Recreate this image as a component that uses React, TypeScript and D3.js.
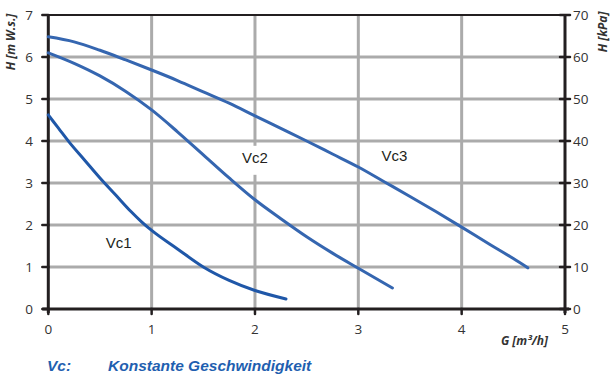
import React from "react";
import * as d3 from "d3";

// Pump characteristic curves: head H over flow G at three constant speeds
const flowTicks = [0, 1, 2, 3, 4, 5];
const headTicks = [0, 1, 2, 3, 4, 5, 6, 7];
const kpaTicks = [0, 10, 20, 30, 40, 50, 60, 70];

const vc1: [number, number][] = [
  [0, 4.62], [0.1, 4.3], [0.2, 3.98], [0.35, 3.55], [0.5, 3.12], [0.65, 2.72],
  [0.8, 2.32], [0.9, 2.08], [1.0, 1.87], [1.25, 1.43], [1.5, 1.0], [1.75, 0.68],
  [2.0, 0.44], [2.3, 0.24],
];
const vc2: [number, number][] = [
  [0, 6.1], [0.25, 5.85], [0.5, 5.55], [0.75, 5.18], [1.0, 4.74], [1.25, 4.22],
  [1.5, 3.67], [1.75, 3.12], [2.0, 2.6], [2.25, 2.15], [2.5, 1.72], [2.75, 1.33],
  [3.0, 0.97], [3.33, 0.5],
];
const vc3: [number, number][] = [
  [0, 6.48], [0.25, 6.36], [0.5, 6.16], [0.75, 5.93], [1.0, 5.69], [1.25, 5.44],
  [1.5, 5.17], [1.75, 4.9], [2.0, 4.6], [2.25, 4.3], [2.5, 4.0], [2.75, 3.69],
  [3.0, 3.38], [3.25, 3.03], [3.5, 2.68], [3.75, 2.32], [4.0, 1.95], [4.25, 1.57],
  [4.5, 1.2], [4.64, 0.98],
];

const seriesLabels = [
  { name: "Vc1", g: 0.68, h: 1.57 },
  { name: "Vc2", g: 2.0, h: 3.6 },
  { name: "Vc3", g: 3.35, h: 3.65 },
];

export default function App() {
  const W = 611, H = 376;
  const x = d3.scaleLinear().domain([0, 5]).range([48.3, 565]);
  const y = d3.scaleLinear().domain([0, 7]).range([309, 15]);
  const yk = d3.scaleLinear().domain([0, 70]).range([309, 15]);
  const line = d3
    .line<[number, number]>()
    .x((d) => x(d[0]))
    .y((d) => y(d[1]))
    .curve(d3.curveMonotoneX);

  const tickFont = "'Open Sans', 'Noto Sans', sans-serif";
  const grid = "#ababab";
  const axis = "#231f20";
  const blue = "#3566b0";
  const blueDark = "#1f57a8";

  return (
    <svg
      width={W}
      height={H}
      style={{ position: "absolute", left: 0, top: 0, background: "#fff" }}
    >
      {/* grid */}
      {headTicks.slice(1, -1).map((t) => (
        <line key={"h" + t} x1={x(0)} x2={x(5)} y1={y(t)} y2={y(t)} stroke={grid} strokeWidth={3} />
      ))}
      {flowTicks.slice(1, -1).map((t) => (
        <line key={"v" + t} x1={x(t)} x2={x(t)} y1={y(0)} y2={y(7)} stroke={grid} strokeWidth={3} />
      ))}

      {/* frame */}
      <line x1={x(0)} x2={x(5)} y1={y(7)} y2={y(7)} stroke={axis} strokeWidth={2} />
      <line x1={x(0)} x2={x(0)} y1={y(7) - 1} y2={y(0) + 4} stroke={axis} strokeWidth={3} />
      <line x1={x(5)} x2={x(5)} y1={y(7) - 1} y2={y(0) + 4} stroke={axis} strokeWidth={3} />
      <line x1={x(0) - 6} x2={x(5) + 4} y1={y(0)} y2={y(0)} stroke={axis} strokeWidth={3} />

      {/* ticks */}
      {headTicks.map((t) => (
        <line key={"lt" + t} x1={x(0) - 6} x2={x(0)} y1={y(t)} y2={y(t)} stroke={axis} strokeWidth={2.5} strokeLinecap="round" />
      ))}
      {kpaTicks.map((t) => (
        <line key={"rt" + t} x1={x(5) - 5} x2={x(5) + 5} y1={yk(t)} y2={yk(t)} stroke={axis} strokeWidth={2.5} strokeLinecap="round" />
      ))}
      {flowTicks.map((t) => (
        <line key={"bt" + t} x1={x(t)} x2={x(t)} y1={y(0)} y2={y(0) + 5} stroke={axis} strokeWidth={2.5} strokeLinecap="round" />
      ))}

      {/* tick labels */}
      <g fontFamily={tickFont} fontSize={13.5} fill="#333">
        {headTicks.map((t) => (
          <text key={"ll" + t} x={33} y={y(t) + 5} textAnchor="end">{t}</text>
        ))}
        {kpaTicks.map((t) => (
          <text key={"rl" + t} x={573} y={yk(t) + 5} textAnchor="start">{t}</text>
        ))}
        {flowTicks.map((t) => (
          <text key={"bl" + t} x={x(t)} y={334} textAnchor="middle">{t}</text>
        ))}
      </g>

      {/* axis titles */}
      <g fontFamily={tickFont} fontSize={12} fontWeight="bold" fontStyle="italic" fill="#333">
        <text transform={`translate(15,42) rotate(-90)`} textAnchor="middle">H [m W.s.]</text>
        <text transform={`translate(607,32) rotate(-90)`} textAnchor="middle">H [kPa]</text>
        <text x={548} y={345} textAnchor="end">G [m³/h]</text>
      </g>

      {/* curves */}
      <path d={line(vc3) ?? ""} fill="none" stroke={blue} strokeWidth={3} strokeLinecap="round" />
      <path d={line(vc2) ?? ""} fill="none" stroke={blue} strokeWidth={3} strokeLinecap="round" />
      <path d={line(vc1) ?? ""} fill="none" stroke={blueDark} strokeWidth={3} strokeLinecap="round" />

      {/* curve labels */}
      {seriesLabels.map((s) => (
        <g key={s.name}>
          <rect x={x(s.g) - 18} y={y(s.h) - 12} width={36} height={29} fill="#fff" />
          <text
            x={x(s.g)}
            y={y(s.h) + 5}
            textAnchor="middle"
            fontFamily="'Liberation Sans', Arial, sans-serif"
            fontSize={15}
            fill="#231f20"
          >
            {s.name}
          </text>
        </g>
      ))}

      {/* legend note */}
      <g fontFamily="'Liberation Sans', Arial, sans-serif" fontSize={15.5} fontWeight="bold" fontStyle="italic" fill="#1f5fb0">
        <text x={47} y={370.5}>Vc:</text>
        <text x={108} y={370.5}>Konstante Geschwindigkeit</text>
      </g>
    </svg>
  );
}
